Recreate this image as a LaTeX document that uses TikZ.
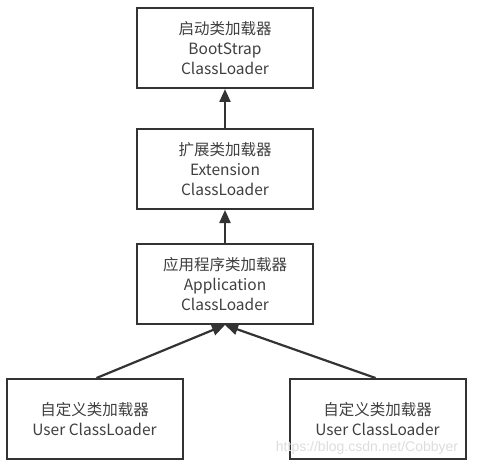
\documentclass[tikz,border=0pt]{standalone}
\usepackage{fontspec}
\setmainfont{Noto Sans CJK SC}
\newfontfamily\wmfont{Liberation Sans}
\usetikzlibrary{arrows.meta}
\definecolor{edge}{HTML}{333333}
\definecolor{txt}{HTML}{404040}
\definecolor{wm}{HTML}{DDDDDD}
\tikzset{
  loader/.style={draw=edge, line width=2pt, fill=white, minimum width=176pt, minimum height=80pt,
    inner sep=0pt, align=center, text=txt, font=\fontsize{15.5pt}{20pt}\selectfont},
  link/.style={draw=edge, line width=2.2pt, -{Triangle[length=13pt,width=11pt]}}
}
\begin{document}
\begin{tikzpicture}[x=1pt,y=-1pt]
\useasboundingbox (0,0) rectangle (481,468);
\node[loader] (boot) at (225,48) {启动类加载器\\BootStrap\\ClassLoader};
\node[loader] (ext) at (225,169) {扩展类加载器\\Extension\\ClassLoader};
\node[loader] (app) at (225,284) {应用程序类加载器\\Application\\ClassLoader};
\node[loader] (u1) at (94.5,419) {自定义类加载器\\User ClassLoader};
\node[loader] (u2) at (377.5,419) {自定义类加载器\\User ClassLoader};
\node[text=wm, font=\wmfont\fontsize{14pt}{16pt}\selectfont, anchor=center] (wmk) at (367,448) {https://blog.csdn.net/Cobbyer};
\draw[link] (ext.north) -- (boot.south);
\draw[link] (app.north) -- (ext.south);
\draw[link] ([xshift=2pt]u1.north) -- (app.south);
\draw[link] ([xshift=-2pt]u2.north) -- (app.south);
\end{tikzpicture}
\end{document}
